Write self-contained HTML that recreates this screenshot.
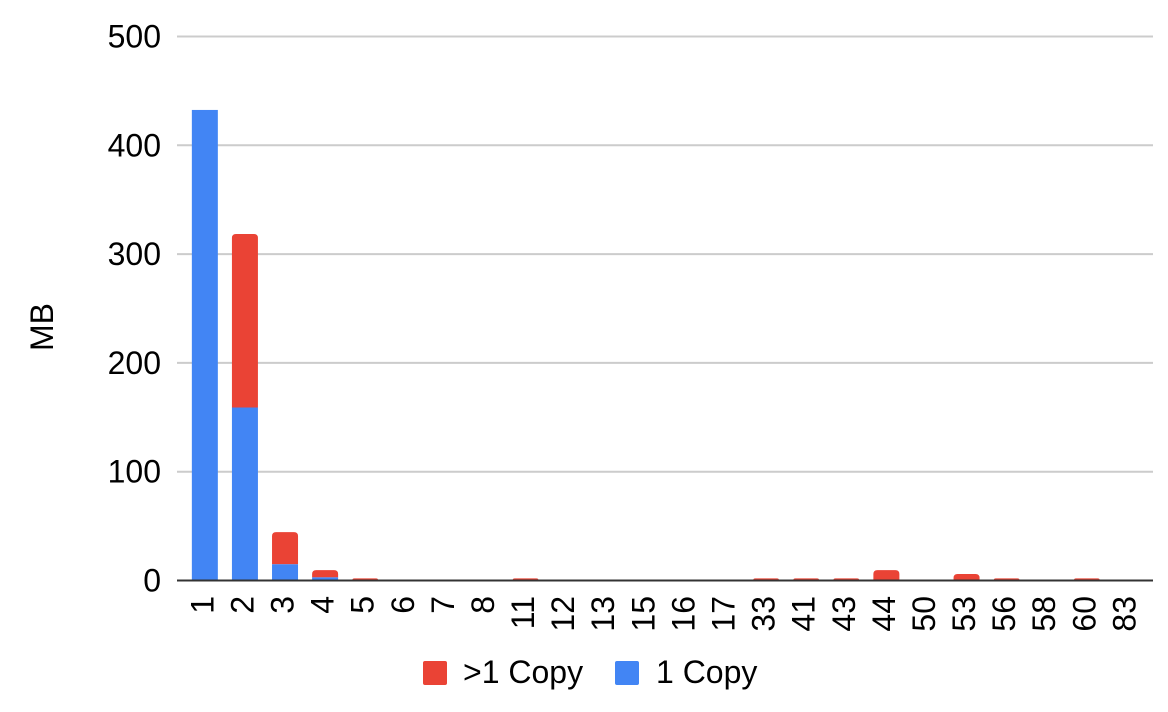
<!DOCTYPE html>
<html>
<head>
<meta charset="utf-8">
<style>
html,body{margin:0;padding:0;background:#fff;}
svg{display:block;}
text{font-family:"Liberation Sans",Arial,sans-serif;fill:#000;}
</style>
</head>
<body>
<svg id="chart" width="1168" height="712" viewBox="0 0 1168 712" xmlns="http://www.w3.org/2000/svg"></svg>
<script>
const categories = ['1','2','3','4','5','6','7','8','11','12','13','15','16','17','33','41','43','44','50','53','56','58','60','83'];
const oneCopy = [432.5,159,15,3,0,0,0,0,0,0,0,0,0,0,0,0,0,0,0,0,0,0,0,0];
const moreCopies = [0,159.5,29.5,6.5,2,0,0,0,2,0,0,0,0,0,2,2,2,9.5,0,6,2,0,2,0];
const yTicks = [0,100,200,300,400,500];

const NS = 'http://www.w3.org/2000/svg';
const svg = document.getElementById('chart');
const plotLeft = 177, plotRight = 1153, bandStart = 184.8, bandStep = 40.09, barWidth = 26;
const y0 = 580.5, yPerUnit = 1.088;
function yScale(v){ return y0 - v * yPerUnit; }
function xScale(i){ return bandStart + bandStep * i + bandStep / 2; }
function make(tag, attrs, text){
  const el = document.createElementNS(NS, tag);
  for (const k in attrs) el.setAttribute(k, attrs[k]);
  if (text !== undefined) el.textContent = text;
  svg.appendChild(el);
  return el;
}
function topRounded(x, yTop, w, h, r){
  const rr = Math.min(r, h);
  return 'M' + x + ' ' + (yTop + h) + 'V' + (yTop + rr) + 'Q' + x + ' ' + yTop + ' ' + (x + rr) + ' ' + yTop +
    'H' + (x + w - rr) + 'Q' + (x + w) + ' ' + yTop + ' ' + (x + w) + ' ' + (yTop + rr) + 'V' + (yTop + h) + 'Z';
}

yTicks.forEach(function(t){
  if (t !== 0) {
    const g = make('line', {x1: plotLeft, x2: plotRight, y1: yScale(t), y2: yScale(t), stroke: '#cccccc', 'stroke-width': 2});
    
    
  }
  const l = make('text', {x: 161, y: yScale(t) + 11, 'text-anchor': 'end', 'font-size': 32}, String(t));
  
  
});

categories.forEach(function(c, i){
  const cx = xScale(i), x = cx - barWidth / 2;
  const a = oneCopy[i], b = moreCopies[i];
  if (a > 0) {
    const blue = make('rect', {x: x, y: yScale(a), width: barWidth, height: a * yPerUnit, fill: '#4285f4'});
    
    
  }
  if (b > 0) {
    const red = make('path', {d: topRounded(x, yScale(a + b), barWidth, b * yPerUnit, 4), fill: '#ea4335'});
    
    
  }
  const t = make('text', {transform: 'translate(' + (cx + 8.5) + ',596) rotate(-90)', 'text-anchor': 'end', 'font-size': 32}, c);
  
  
});

const base = make('line', {x1: plotLeft, x2: plotRight, y1: y0, y2: y0, stroke: '#333333', 'stroke-width': 2});



const yTitle = make('text', {transform: 'translate(53,351) rotate(-90)', 'font-size': 32}, 'MB');



const sw1 = make('rect', {x: 423, y: 661, width: 24, height: 24, rx: 2, fill: '#ea4335'});


const lt1 = make('text', {x: 463, y: 683, 'font-size': 32}, '>1 Copy');


const sw2 = make('rect', {x: 615, y: 661, width: 24, height: 24, rx: 2, fill: '#4285f4'});


const lt2 = make('text', {x: 656, y: 683, 'font-size': 32}, '1 Copy');


</script>
</body>
</html>
